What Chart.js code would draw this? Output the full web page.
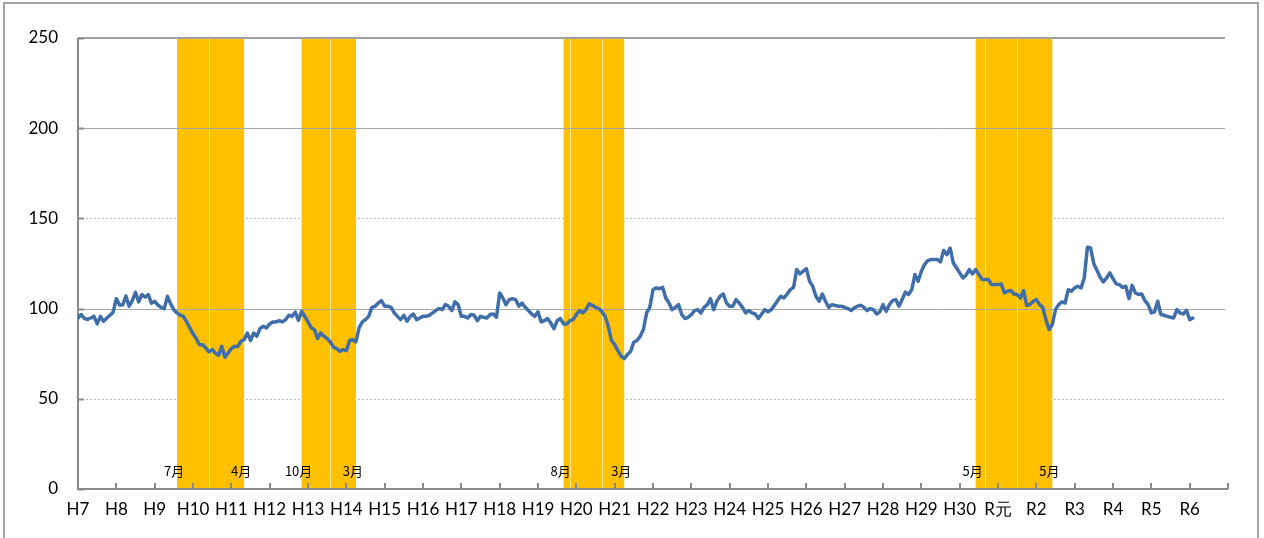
<!DOCTYPE html>
<html lang="ja">
<head>
<meta charset="utf-8">
<title>景気動向</title>
<script src="https://cdn.jsdelivr.net/npm/chart.js@4.4.1/dist/chart.umd.min.js"></script>
<style>
  html, body { margin: 0; padding: 0; background: #fff; }
  #frame {
    position: absolute; left: 3px; top: 2px; width: 1256px; height: 545px;
    border: 2px solid #a3a3a3; box-sizing: border-box;
  }
  #chart { position: absolute; left: 0; top: 0; }
</style>
</head>
<body>
<div id="frame"></div>
<canvas id="chart" width="1264" height="538"></canvas>
<script>
// DATI (mensili, da gennaio H7 a febbraio R6)

const yearLabels = [
  "H7", "H8", "H9", "H10", "H11", "H12", "H13", "H14", "H15", "H16", "H17", "H18",
  "H19", "H20", "H21", "H22", "H23", "H24", "H25", "H26", "H27", "H28", "H29", "H30",
  "R元", "R2", "R3", "R4", "R5", "R6"
];

const values = [
  94.8, 96.7, 94.5, 94, 94.8, 95.7, 91.5, 95.7, 93, 94.8, 96.3, 98,
  105.5, 102, 102, 107, 101.3, 104.4, 109, 103.7, 107.8, 106.3, 107.8, 103,
  104, 102, 100.7, 100, 106.8, 102.6, 99.4, 97.6, 96.3, 95.7, 92.6, 89.3,
  86, 83.4, 80, 80, 78.2, 76, 77.3, 75.4, 74.1, 79.1, 73, 75.4,
  77.8, 79.1, 79, 81.9, 82.8, 86.5, 82.3, 86.5, 84.7, 89, 90.2, 89.3,
  91.5, 92.6, 92.6, 93.3, 92.6, 93.9, 96.3, 95.7, 98, 93.5, 98.5, 95.7,
  92.6, 89.3, 88.4, 83.4, 86.5, 84.7, 83.4, 81.5, 78.6, 77.8, 76.3, 77.3,
  76.7, 82.3, 82.8, 81.5, 89.3, 92.6, 93.9, 95.7, 100.7, 101.3, 103.1, 104.4,
  101.3, 101.3, 100.7, 97.6, 95.7, 93.9, 96.3, 93, 95.7, 97, 93.9, 94.8,
  95.7, 95.7, 96.3, 97.6, 98.9, 100, 99.4, 102.2, 101.3, 98.9, 103.7, 102.2,
  95.7, 95.7, 94.8, 96.7, 96.3, 93.3, 95.7, 95.2, 94.8, 96.7, 97, 95.2,
  108.7, 105.9, 102.2, 105, 105.5, 105, 101.3, 103.1, 100.7, 98.9, 97, 95.7,
  98.2, 92.6, 93.3, 94.5, 92, 88.9, 93.3, 94.5, 91.5, 91.5, 93.3, 93.9,
  96.7, 98.9, 97.6, 99.4, 102.6, 101.8, 100.7, 100, 98.2, 95.7, 90.2, 82.3,
  80, 76.7, 73.6, 72.3, 74.5, 76.3, 81.5, 82.3, 84.7, 88.4, 97.6, 100.7,
  110.5, 111.5, 111, 111.8, 105.9, 103.1, 99.4, 100.7, 102.2, 96.7, 94.5, 95.2,
  96.7, 98.9, 99.4, 97.6, 100.7, 102.2, 105.5, 99.4, 104.1, 106.8, 108.1, 103.1,
  101.3, 101.3, 105, 103.1, 100.7, 97.6, 98.9, 97.6, 97, 94.5, 97, 99.4,
  98.2, 99.4, 101.8, 104.4, 106.8, 105.9, 108.1, 110.5, 111.8, 121.6, 119.2, 120.7,
  122.2, 115.2, 112.4, 106.8, 104.1, 108.1, 104.1, 100.7, 102.2, 101.8, 101.3, 101.3,
  100.7, 100, 98.9, 100.4, 101.3, 101.8, 100.7, 98.9, 100, 99.4, 97, 98.2,
  102.2, 98.5, 102.2, 104.4, 105, 101.3, 105, 109.2, 107.8, 110.5, 118.9, 115.2,
  120.7, 124.4, 126.6, 127.2, 127.2, 127.2, 125.9, 132.2, 129.9, 133.6, 125.3, 122.6,
  119.8, 117, 118.5, 121.6, 119.2, 121.6, 118.9, 116.1, 116.1, 116.1, 113.3, 113.3,
  113.3, 113.7, 108.7, 109.6, 110, 108.1, 107.8, 105.9, 110, 101.8, 102.2, 104.1,
  105, 102.2, 100.7, 93.9, 88.4, 91.1, 99.4, 102.2, 103.7, 103.1, 110.5, 109.6,
  111.5, 112.4, 111.5, 117, 134, 133.6, 124.8, 121.1, 117.4, 114.8, 117, 119.8,
  116.6, 113.7, 113.3, 111.8, 112.4, 105.5, 112.9, 108.7, 107.8, 108.1, 104.4, 102.2,
  97.6, 98.2, 104.1, 96.7, 96.3, 95.7, 95.2, 94.8, 99.4, 97.6, 97, 99,
  93.9, 94.8
];

// periodi di recessione (indice del mese: 0 = gennaio H7)
const peakMonths = [30, 69, 151, 280];
const troughMonths = [51, 86, 170, 304];
const peakLabels = ["7月", "10月", "8月", "5月"];
const troughLabels = ["4月", "3月", "3月", "5月"];
const bandSplits = [[41], [79], [154, 164], [284, 294]];

// linee tratteggiate della griglia
const dottedValues = [50, 150];

const totalMonths = yearLabels.length * 12;

// PLUGIN: bande, griglia, assi

const backdrop = {
  id: "backdrop",
  beforeDatasetsDraw(chart) {
    const { ctx, chartArea: a, scales: { x, y } } = chart;
    ctx.save();

    // griglia tratteggiata
    ctx.strokeStyle = "#b8b8b8";
    ctx.lineWidth = 1;
    ctx.setLineDash([2, 2]);
    y.ticks.forEach((t) => {
      if (!dottedValues.includes(t.value)) return;
      const py = Math.round(y.getPixelForValue(t.value)) + 0.5;
      ctx.beginPath();
      ctx.moveTo(a.left, py);
      ctx.lineTo(a.right - 3, py);
      ctx.stroke();
    });
    ctx.setLineDash([]);

    // bande
    peakMonths.forEach((p, i) => {
      const x0 = x.getPixelForValue(p + 1);
      const x1 = x.getPixelForValue(troughMonths[i] + 1);
      ctx.fillStyle = "#FFC000";
      ctx.fillRect(x0, a.top, x1 - x0, a.bottom - a.top);
      ctx.strokeStyle = "rgba(255, 236, 170, 0.9)";
      ctx.lineWidth = 1;
      bandSplits[i].forEach((m) => {
        const sx = Math.round(x.getPixelForValue(m)) + 0.5;
        ctx.beginPath();
        ctx.moveTo(sx, a.top);
        ctx.lineTo(sx, a.bottom);
        ctx.stroke();
      });
    });

    // griglia continua (100, 200, 250)
    y.ticks.forEach((t) => {
      if (t.value === 0 || dottedValues.includes(t.value)) return;
      const top = t.value === y.max;
      const py = Math.round(y.getPixelForValue(t.value)) + (top ? 0 : 0.5);
      ctx.strokeStyle = top ? "#a0a0a0" : "#a6a6a6";
      ctx.lineWidth = top ? 2 : 1;
      ctx.beginPath();
      ctx.moveTo(a.left, py);
      ctx.lineTo(a.right - 3, py);
      ctx.stroke();
    });

    // assi
    ctx.strokeStyle = "#898989";
    ctx.lineWidth = 2;
    ctx.beginPath();
    ctx.moveTo(a.left, a.top);
    ctx.lineTo(a.left, a.bottom);
    ctx.lineTo(a.right, a.bottom);
    ctx.stroke();

    // tacche
    x.ticks.forEach((t) => {
      const px = Math.round(x.getPixelForValue(t.value));
      ctx.beginPath();
      ctx.moveTo(px, a.bottom);
      ctx.lineTo(px, a.bottom - 6);
      ctx.stroke();
    });
    y.ticks.forEach((t) => {
      const py = Math.round(y.getPixelForValue(t.value)) + 0.5;
      ctx.beginPath();
      ctx.moveTo(a.left, py);
      ctx.lineTo(a.left + 6, py);
      ctx.stroke();
    });

    // etichette dei mesi
    ctx.fillStyle = "#000";
    ctx.font = '13px "Noto Sans CJK JP", "Noto Sans", sans-serif';
    ctx.textAlign = "center";
    ctx.textBaseline = "middle";
    peakMonths.forEach((p, i) => {
      ctx.fillText(peakLabels[i], x.getPixelForValue(p + 1) - 3, a.bottom - 18);
      ctx.fillText(troughLabels[i], x.getPixelForValue(troughMonths[i] + 1) - 3, a.bottom - 18);
    });

    ctx.restore();
  },
};

// GRAFICO

new Chart(document.getElementById("chart"), {
  type: "line",
  data: {
    datasets: [
      {
        data: values.map((v, i) => ({ x: i, y: v })),
        borderColor: "#3F6EA8",
        borderWidth: 3.5,
        pointRadius: 0,
        tension: 0,
        borderJoinStyle: "round",
        borderCapStyle: "round",
      },
    ],
  },
  options: {
    responsive: false,
    animation: false,
    layout: { padding: { top: 38, left: 0, right: 36, bottom: 0 } },
    plugins: {
      legend: { display: false },
      tooltip: { enabled: false },
    },
    scales: {
      x: {
        type: "linear",
        min: 0,
        max: totalMonths,
        grid: { display: false },
        border: { display: false },
        afterFit: (s) => { s.height = 49; },
        ticks: {
          stepSize: 12,
          maxTicksLimit: 40,
          autoSkip: false,
          maxRotation: 0,
          padding: 2,
          color: "#000",
          font: { family: "Lato", size: 17 },
          callback: (v) => yearLabels[v / 12] ?? "",
        },
      },
      y: {
        min: 0,
        max: 250,
        grid: { display: false },
        border: { display: false },
        afterFit: (s) => { s.width = 78; },
        ticks: {
          stepSize: 50,
          padding: 12,
          color: "#000",
          font: { family: "Lato", size: 17 },
        },
      },
    },
  },
  plugins: [backdrop],
});
</script>
</body>
</html>
